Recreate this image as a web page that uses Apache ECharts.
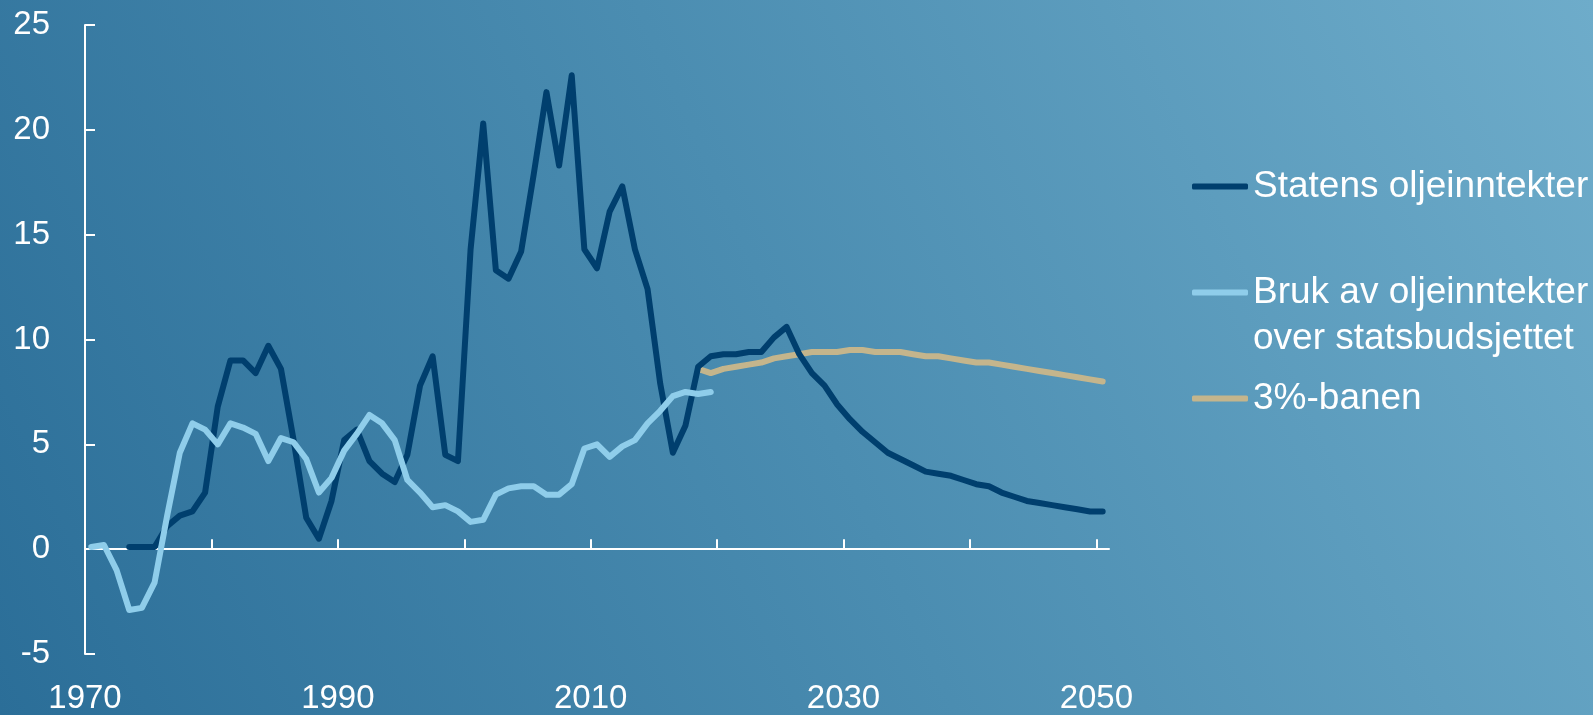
<!DOCTYPE html>
<html>
<head>
<meta charset="utf-8">
<script src="https://cdn.jsdelivr.net/npm/echarts@6/dist/echarts.min.js"></script>
<style>
html,body{margin:0;padding:0;width:1593px;height:715px;overflow:hidden;}
#c{width:1593px;height:715px;}
</style>
</head>
<body>
<div id="c"></div>
<script>
// ---- data ----
const brukYears = [];
for (let y = 1970; y <= 2019; y++) brukYears.push(y);
const brukValues = [
  0.1, 0.2, -1.0, -2.9, -2.8, -1.6, 1.6, 4.6, 6.0, 5.7,
  5.0, 6.0, 5.8, 5.5, 4.2, 5.3, 5.1, 4.3, 2.7, 3.4,
  4.7, 5.5, 6.4, 6.0, 5.2, 3.3, 2.7, 2.0, 2.1, 1.8,
  1.3, 1.4, 2.6, 2.9, 3.0, 3.0, 2.6, 2.6, 3.1, 4.8,
  5.0, 4.4, 4.9, 5.2, 6.0, 6.6, 7.3, 7.5, 7.4, 7.5
];

const statensYears = [];
for (let y = 1973; y <= 2050; y++) statensYears.push(y);
const statensValues = [
  0.1, 0.1, 0.1, 1.1, 1.6, 1.8, 2.7,
  6.8, 9.0, 9.0, 8.4, 9.7, 8.6, 5.2, 1.5, 0.5, 2.3,
  5.2, 5.7, 4.2, 3.6, 3.2, 4.5, 7.8, 9.2, 4.5, 4.2,
  14.3, 20.3, 13.3, 12.9, 14.2, 17.9, 21.8, 18.3, 22.6, 14.3,
  13.4, 16.1, 17.3, 14.3, 12.4, 7.9, 4.6, 5.9, 8.7, 9.2,
  9.3, 9.3, 9.4, 9.4, 10.1, 10.6, 9.3, 8.4, 7.8, 6.9,
  6.2, 5.6, 5.1, 4.6, 4.3, 4.0, 3.7, 3.6, 3.5, 3.3,
  3.1, 3.0, 2.7, 2.5, 2.3, 2.2, 2.1, 2.0, 1.9, 1.8,
  1.8
];

const baneYears = [];
for (let y = 2018; y <= 2050; y++) baneYears.push(y);
const baneValues = [
  8.6, 8.4,
  8.6, 8.7, 8.8, 8.9, 9.1, 9.2, 9.3, 9.4, 9.4, 9.4,
  9.5, 9.5, 9.4, 9.4, 9.4, 9.3, 9.2, 9.2, 9.1, 9.0,
  8.9, 8.9, 8.8, 8.7, 8.6, 8.5, 8.4, 8.3, 8.2, 8.1,
  8.0
];

const xTickYears = [1970, 1980, 1990, 2000, 2010, 2020, 2030, 2040, 2050];
const xLabelYears = [1970, 1990, 2010, 2030, 2050];

const names = ['Statens oljeinntekter', 'Bruk av oljeinntekter', '3%-banen'];
const secondLine = 'over statsbudsjettet';
const colors = ['#003f6e', '#8fcdea', '#c4b58c'];

// each annual value is drawn at the middle of its year
const pts = (years, vals) => years.map((y, i) => [y + 0.5, vals[i]]);

const FONT = 'Liberation Sans, Arial, sans-serif';
const chart = echarts.init(document.getElementById('c'), null, {renderer: 'canvas'});

function legendFor(i, top) {
  return {
    show: true,
    data: [names[i]],
    orient: 'vertical',
    left: 1192,
    top: top,
    icon: 'roundRect',
    itemWidth: 56,
    itemHeight: 6,
    itemGap: 0,
    padding: 0,
    selectedMode: false,
    textStyle: {color: '#ffffff', fontSize: 37, fontFamily: FONT}
  };
}

chart.setOption({
  animation: false,
  backgroundColor: {
    type: 'linear', x: 0, y: 1, x2: 1, y2: 0,
    colorStops: [
      {offset: 0, color: '#2b6e98'},
      {offset: 0.5, color: '#4b8db1'},
      {offset: 1, color: '#6eacca'}
    ]
  },
  grid: {left: 85, right: 484, top: 25, bottom: 60, containLabel: false},
  legend: [legendFor(0, 168), legendFor(1, 274), legendFor(2, 380)],
  graphic: [{
    type: 'text',
    left: 1253,
    top: 320,
    style: {text: secondLine, fill: '#ffffff', font: '37px ' + FONT}
  }],
  xAxis: [{
    type: 'value',
    min: 1970,
    max: 2051,
    axisLine: {show: true, onZero: true, lineStyle: {color: '#ffffff', width: 2}},
    axisTick: {show: true, inside: true, length: 10, customValues: xTickYears, lineStyle: {color: '#ffffff', width: 2}},
    axisLabel: {show: false},
    splitLine: {show: false}
  }, {
    type: 'value',
    position: 'bottom',
    min: 1970,
    max: 2051,
    axisLine: {show: false, onZero: false},
    axisTick: {show: false},
    axisLabel: {show: true, customValues: xLabelYears, color: '#ffffff', fontSize: 33, fontFamily: FONT, margin: 28,
      formatter: v => String(Math.round(v))},
    splitLine: {show: false}
  }],
  yAxis: {
    type: 'value',
    min: -5,
    max: 25,
    interval: 5,
    axisLine: {show: true, onZero: false, lineStyle: {color: '#ffffff', width: 2}},
    axisTick: {show: true, inside: true, length: 10, lineStyle: {color: '#ffffff', width: 2}},
    axisLabel: {color: '#ffffff', fontSize: 33, fontFamily: FONT, margin: 35, padding: [5, 0, 0, 0]},
    splitLine: {show: false}
  },
  series: [{
    name: names[0], type: 'line', xAxisIndex: 0,
    data: pts(statensYears, statensValues),
    showSymbol: false, symbol: 'none',
    lineStyle: {color: colors[0], width: 6, cap: 'round', join: 'round'},
    itemStyle: {color: colors[0]}, z: 3
  }, {
    name: names[1], type: 'line', xAxisIndex: 0,
    data: pts(brukYears, brukValues),
    showSymbol: false, symbol: 'none',
    lineStyle: {color: colors[1], width: 6, cap: 'round', join: 'round'},
    itemStyle: {color: colors[1]}, z: 4
  }, {
    name: names[2], type: 'line', xAxisIndex: 0,
    data: pts(baneYears, baneValues),
    showSymbol: false, symbol: 'none',
    lineStyle: {color: colors[2], width: 6, cap: 'round', join: 'round'},
    itemStyle: {color: colors[2]}, z: 2
  }]
});
</script>
</body>
</html>
